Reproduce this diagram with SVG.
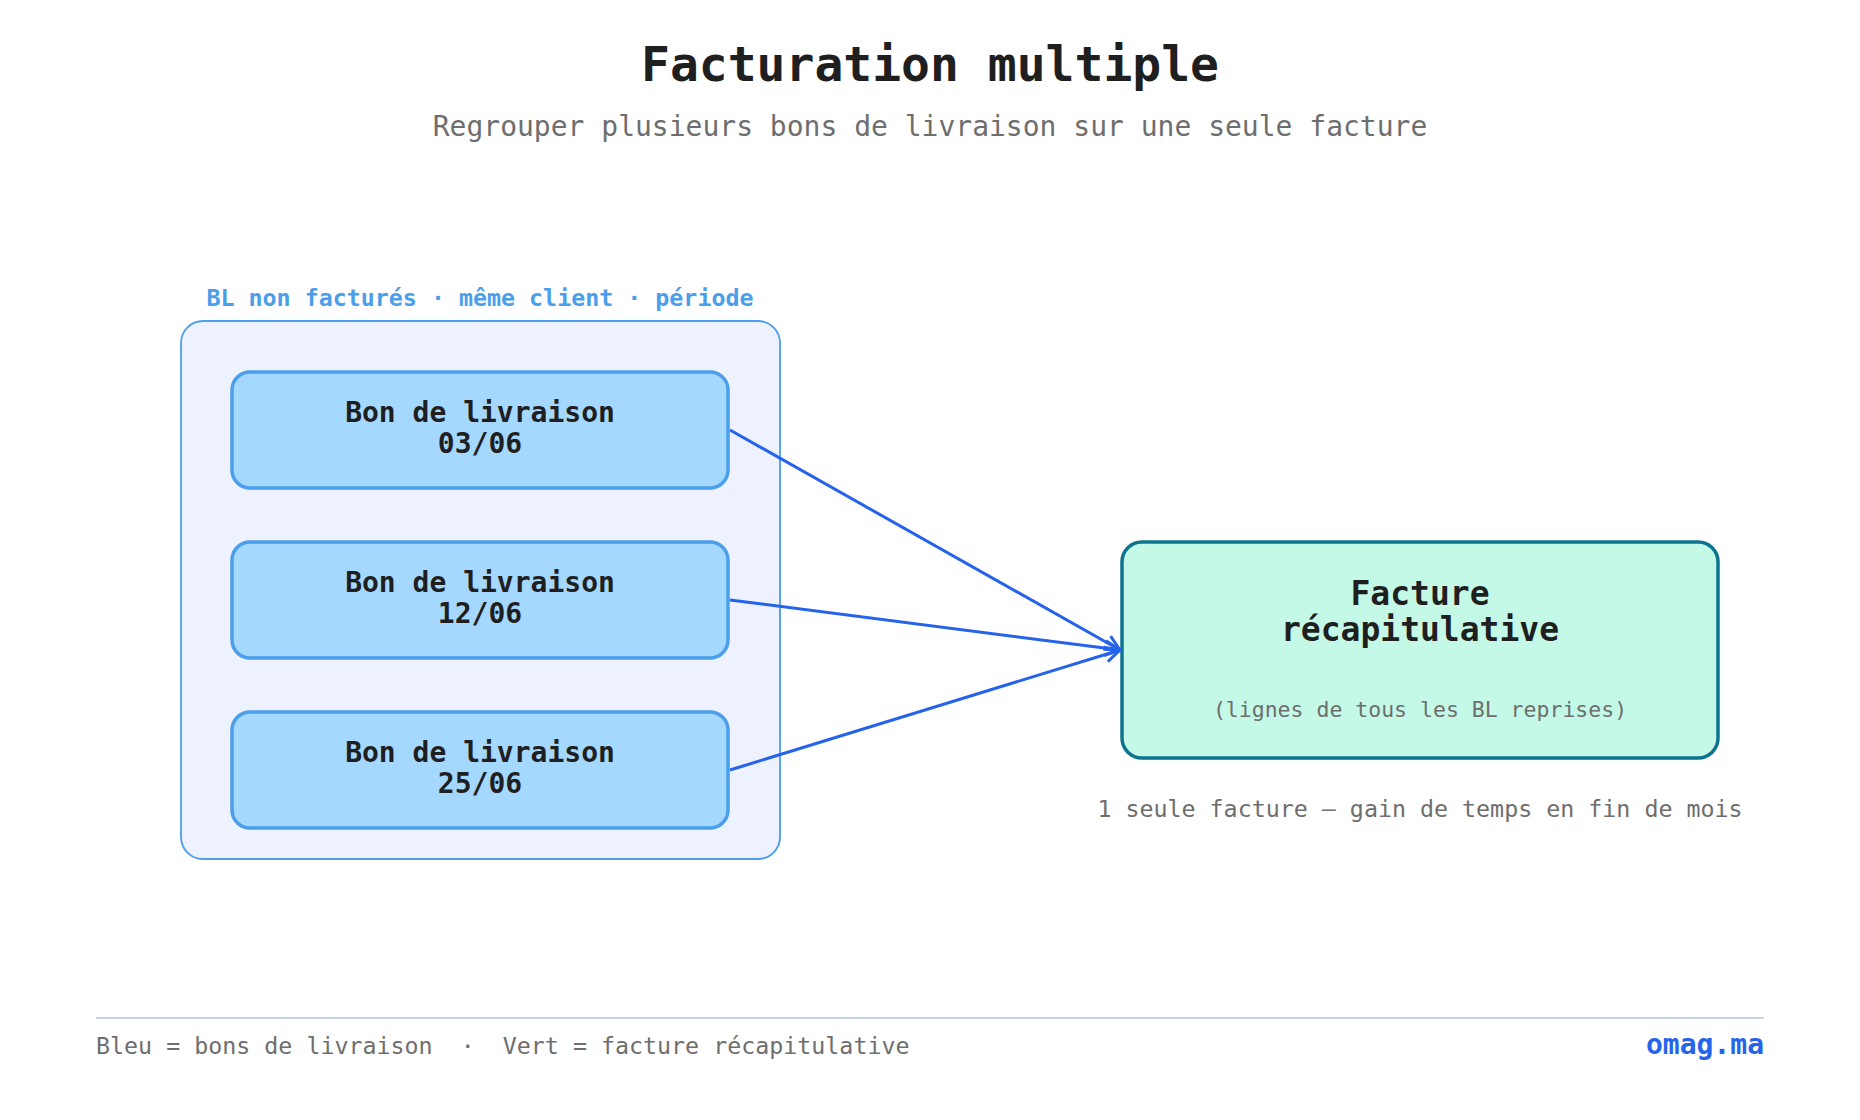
<svg xmlns="http://www.w3.org/2000/svg" width="1860" height="1120" viewBox="0 0 1860 1120">
  <defs>
    <marker id="arrow" viewBox="0 0 12 12" refX="11" refY="6" markerWidth="6" markerHeight="6" markerUnits="strokeWidth" orient="auto">
      <path d="M1,1 L11,6 L1,11" fill="none" stroke="#2563eb" stroke-width="2"/>
    </marker>
    <style>
      text { font-family: "DejaVu Sans Mono", "Liberation Mono", monospace; }
      .title { font-size: 48px; font-weight: bold; fill: #1f1f1f; }
      .subtitle { font-size: 28px; fill: #6e6e6e; }
      .cluster { fill: #eef2fe; stroke: #4a9eea; stroke-width: 1.8; }
      .cluster-label { font-size: 23.3px; font-weight: bold; fill: #4a9eea; }
      .bl { fill: #a5d8ff; stroke: #4a9eea; stroke-width: 3.5; }
      .bl-text { font-size: 28px; font-weight: bold; fill: #1f1f1f; }
      .fact { fill: #c3f9e6; stroke: #0e7490; stroke-width: 3.5; }
      .fact-text { font-size: 33px; font-weight: bold; fill: #1f1f1f; }
      .fact-sub { font-size: 21.5px; fill: #6e6e6e; }
      .note { font-size: 23.3px; fill: #6e6e6e; }
      .edge { fill: none; stroke: #2563eb; stroke-width: 3; marker-end: url(#arrow); }
      .brand { font-size: 28px; font-weight: bold; fill: #2563eb; }
    </style>
  </defs>

  <rect width="1860" height="1120" fill="#ffffff"/>

  <text class="title" x="930" y="81" text-anchor="middle">Facturation multiple</text>
  <text class="subtitle" x="930" y="136" text-anchor="middle">Regrouper plusieurs bons de livraison sur une seule facture</text>

  <g id="cluster-bl">
    <rect class="cluster" x="181" y="321" width="599" height="538" rx="22" ry="22"/>
    <text class="cluster-label" x="480" y="306" text-anchor="middle">BL non facturés · même client · période</text>
  </g>

  <g id="bl1">
    <rect class="bl" x="232" y="372" width="496" height="116" rx="18" ry="18"/>
    <text class="bl-text" x="480" y="422" text-anchor="middle">Bon de livraison</text>
    <text class="bl-text" x="480" y="453" text-anchor="middle">03/06</text>
  </g>

  <g id="bl2">
    <rect class="bl" x="232" y="542" width="496" height="116" rx="18" ry="18"/>
    <text class="bl-text" x="480" y="592" text-anchor="middle">Bon de livraison</text>
    <text class="bl-text" x="480" y="623" text-anchor="middle">12/06</text>
  </g>

  <g id="bl3">
    <rect class="bl" x="232" y="712" width="496" height="116" rx="18" ry="18"/>
    <text class="bl-text" x="480" y="762" text-anchor="middle">Bon de livraison</text>
    <text class="bl-text" x="480" y="793" text-anchor="middle">25/06</text>
  </g>

  <g id="facture">
    <rect class="fact" x="1122" y="542" width="596" height="216" rx="20" ry="20"/>
    <text class="fact-text" x="1420" y="605" text-anchor="middle">Facture</text>
    <text class="fact-text" x="1420" y="641" text-anchor="middle">récapitulative</text>
    <text class="fact-sub" x="1420" y="717" text-anchor="middle">(lignes de tous les BL reprises)</text>
  </g>

  <g id="note">
    <text class="note" x="1420" y="817" text-anchor="middle">1 seule facture — gain de temps en fin de mois</text>
  </g>

  <g id="connectors">
    <path class="edge" d="M730,430 L1120,650"/>
    <path class="edge" d="M730,600 L1120,650"/>
    <path class="edge" d="M730,770 L1120,650"/>
  </g>

  <g id="footer">
    <line x1="96" y1="1018" x2="1764" y2="1018" stroke="#cbd5e1" stroke-width="2"/>
    <text class="note" x="96" y="1054" xml:space="preserve">Bleu = bons de livraison  ·  Vert = facture récapitulative</text>
    <text class="brand" x="1764" y="1054" text-anchor="end">omag.ma</text>
  </g>
</svg>
